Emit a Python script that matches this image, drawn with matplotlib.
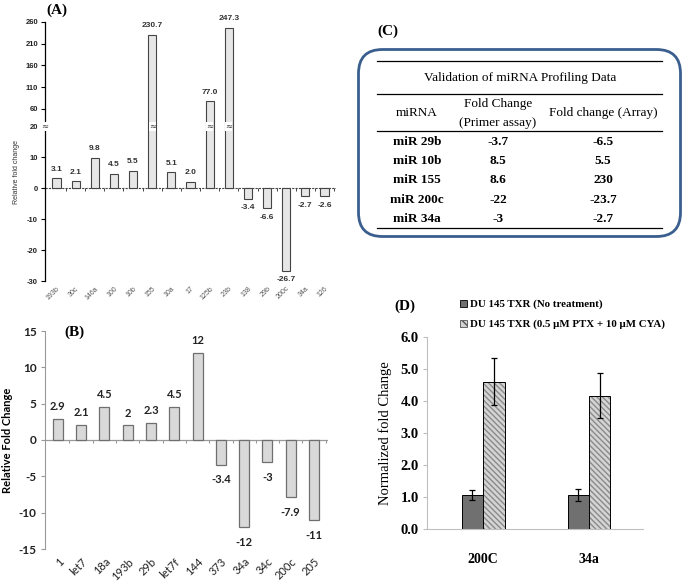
import numpy as np
import matplotlib
matplotlib.use('Agg')
from matplotlib import pyplot as pl
from matplotlib.patches import FancyBboxPatch, Patch

# panel A: array profiling
a_names = ['193b', '30c', '146a', '100', '10b', '155', '10a', '17',
           '125b', '23b', '138', '29b', '200c', '34a', '126']
a_vals = [3.1, 2.1, 9.8, 4.5, 5.5, 230.7, 5.1, 2.0,
          77.0, 247.3, -3.4, -6.6, -26.7, -2.7, -2.6]
a_ticks = [-30, -20, -10, 0, 10, 20, 60, 110, 160, 210, 260]
a_break = 20

# panel B
b_names = ['1', 'let7', '18a', '193b', '29b', 'let7f', '144',
           '373', '34a', '34c', '200c', '205']
b_vals = [2.9, 2.1, 4.5, 2, 2.3, 4.5, 12, -3.4, -12, -3, -7.9, -11]

# panel C: table
c_mirna = ['miR 29b', 'miR 10b', 'miR 155', 'miR 200c', 'miR 34a']
c_primer = [-3.7, 8.5, 8.6, -22, -3]
c_array = [-6.5, 5.5, 230, -23.7, -2.7]

# panel D
d_groups = ['200C', '34a']
d_ctrl = [1.07, 1.07]
d_ctrl_err = [0.15, 0.19]
d_trt = [4.60, 4.17]
d_trt_err = [0.73, 0.71]
d_labels = ['DU 145 TXR (No treatment)',
            'DU 145 TXR (0.5 \u00b5M PTX + 10 \u00b5M CYA)']

W, H = 686, 585
fig = pl.figure(figsize=(W/100, H/100), dpi=100)


def box(l, t, r, b):
    return [l/W, 1-b/H, (r-l)/W, (b-t)/H]


# ---------------- (A) ----------------
k = (104/240)/(31/10)


def fwd(y):
    y = np.asarray(y, dtype=float)
    return np.where(y <= a_break, y, a_break+(y-a_break)*k)


def inv(y):
    y = np.asarray(y, dtype=float)
    return np.where(y <= a_break, y, a_break+(y-a_break)/k)


axA = fig.add_axes(box(45, 22, 336, 281))
axA.set_yscale('function', functions=(fwd, inv))
xa = np.arange(len(a_vals))
axA.bar(xa, a_vals, width=0.42, color='#e6e6e6', edgecolor='#444444',
        linewidth=0.8, zorder=2)
axA.set_xlim(-0.6, len(a_vals)-0.4)
axA.set_ylim(-30, 260)
axA.set_yticks(a_ticks)
axA.set_yticklabels([str(t) for t in a_ticks], fontsize=5.5,
                    family='Liberation Sans', weight='bold', color='#222222')
axA.set_xticks(xa)
axA.set_xticklabels(a_names, rotation=45, ha='right', rotation_mode='anchor',
                    fontsize=5, family='Liberation Sans', color='#555555')
axA.tick_params(axis='x', length=0, pad=3)
axA.tick_params(axis='y', length=3, width=0.8, pad=2)
for s in ['top', 'right', 'bottom']:
    axA.spines[s].set_visible(False)
axA.spines['left'].set_linewidth(0.9)
axA.axhline(0, color='#444444', linewidth=0.8, linestyle=(0, (2, 1)), zorder=1)
axA.vlines(xa+0.5, -0.9, 0, color='#444444', linewidth=0.7)
for i, v in enumerate(a_vals):
    if v > a_break:
        axA.text(i, a_break, '\u2248', ha='center', va='center', fontsize=6,
                 color='#333333', zorder=3,
                 bbox=dict(facecolor='white', edgecolor='none', pad=0))
    axA.annotate('%.1f' % v, (i, v), xytext=(0, 4 if v > 0 else -4),
                 textcoords='offset points', ha='center',
                 va='bottom' if v > 0 else 'top', fontsize=6,
                 family='Liberation Sans', weight='bold', color='#333333')
axA.text(-0.6, a_break, '\u2248', ha='center', va='center', fontsize=6,
         color='#333333',
         bbox=dict(facecolor='white', edgecolor='none', pad=0))
fig.text(16/W, 1-172/H, 'Relative fold change', rotation=90, ha='center',
         va='center', fontsize=5, family='Liberation Sans', color='#333333')
fig.text(57/W, 1-10/H, '(A)', ha='center', va='center', fontsize=11,
         family='Liberation Serif', weight='bold')

# ---------------- (B) ----------------
axB = fig.add_axes(box(45, 331, 328, 549))
xb = np.arange(len(b_vals))
axB.bar(xb, b_vals, width=0.43, color='#d9d9d9', edgecolor='#6f6f6f',
        linewidth=0.9, zorder=2)
axB.set_xlim(-0.55, len(b_vals)-0.4)
axB.set_ylim(-15, 15)
axB.set_yticks([-15, -10, -5, 0, 5, 10, 15])
axB.set_yticklabels(['-15', '-10', '-5', '0', '5', '10', '15'], fontsize=8.5,
                    family='Lato', weight='bold', color='#222222')
axB.set_xticks(xb)
axB.set_xticklabels(b_names, rotation=45, ha='right', rotation_mode='anchor',
                    fontsize=8, family='Lato', color='#222222')
axB.tick_params(axis='x', length=0, pad=5)
axB.tick_params(axis='y', length=3, width=0.8, color='#999999', pad=3)
for s in ['top', 'right', 'bottom']:
    axB.spines[s].set_visible(False)
axB.spines['left'].set_color('#999999')
axB.axhline(0, color='#999999', linewidth=0.9, zorder=1)
axB.vlines(xb+0.5, -0.4, 0, color='#999999', linewidth=0.8)
for i, v in enumerate(b_vals):
    axB.annotate('%g' % v, (i, v), xytext=(0, 5 if v > 0 else -7),
                 textcoords='offset points', ha='center',
                 va='bottom' if v > 0 else 'top', fontsize=8, family='Lato',
                 weight='bold', color='#222222')
axB.set_ylabel('Relative Fold Change', fontsize=8, family='Lato',
               weight='bold', labelpad=4)
fig.text(74/W, 1-332/H, '(B)', ha='center', va='center', fontsize=11,
         family='Liberation Serif', weight='bold')

# ---------------- (C) ----------------
axC = fig.add_axes(box(357, 48, 682, 238))
axC.set_xlim(0, 325)
axC.set_ylim(190, 0)
axC.axis('off')
axC.add_patch(FancyBboxPatch((1.5, 1.5), 322, 187,
                             boxstyle='round,pad=0,rounding_size=24',
                             facecolor='white', edgecolor='#3a5f8f',
                             linewidth=2))
for y in [13, 46, 83, 180]:
    axC.plot([20, 305], [y, y], color='black', linewidth=0.9)
serif = 'Liberation Serif'
axC.text(163, 30, 'Validation of miRNA Profiling Data', ha='center',
         va='center', fontsize=9.5, family=serif)
axC.text(60, 65, 'miRNA', ha='center', va='center', fontsize=9.5, family=serif)
axC.text(141, 56, 'Fold Change', ha='center', va='center', fontsize=9.5,
         family=serif)
axC.text(141, 75, '(Primer assay)', ha='center', va='center', fontsize=9.5,
         family=serif)
axC.text(246, 65, 'Fold change (Array)', ha='center', va='center',
         fontsize=9.5, family=serif)
for i, name in enumerate(c_mirna):
    y = 94+19.2*i
    axC.text(60, y, name, ha='center', va='center', fontsize=9.5,
             family=serif, weight='bold')
    axC.text(141, y, '%g' % c_primer[i], ha='center', va='center',
             fontsize=9.5, family=serif, weight='bold')
    axC.text(246, y, '%g' % c_array[i], ha='center', va='center',
             fontsize=9.5, family=serif, weight='bold')
fig.text(388/W, 1-31/H, '(C)', ha='center', va='center', fontsize=11,
         family=serif, weight='bold')

# ---------------- (D) ----------------
axD = fig.add_axes(box(427, 337, 643, 529))
xd = np.arange(len(d_groups))
bw = 0.203
axD.bar(xd-bw/2, d_ctrl, width=bw, color='#707070', edgecolor='black',
        linewidth=0.7, yerr=d_ctrl_err, capsize=2.5,
        error_kw=dict(elinewidth=0.9, capthick=0.9), zorder=2)
axD.bar(xd+bw/2, d_trt, width=bw, color='#d4d4d4', edgecolor='#8a8a8a',
        hatch='\\\\\\\\\\\\', linewidth=0, zorder=2)
axD.bar(xd+bw/2, d_trt, width=bw, fill=False, edgecolor='black',
        linewidth=0.7, yerr=d_trt_err, capsize=2.5,
        error_kw=dict(elinewidth=0.9, capthick=0.9), zorder=3)
axD.set_xlim(-0.53, 1.51)
axD.set_ylim(0, 6)
axD.set_yticks(np.arange(0, 7))
axD.set_yticklabels(['%.1f' % t for t in range(7)], fontsize=10.5,
                    family=serif, weight='bold')
axD.set_xticks(xd)
axD.set_xticklabels(d_groups, fontsize=10, family=serif, weight='bold')
axD.tick_params(axis='x', length=0, pad=17)
axD.tick_params(axis='y', length=3, color='#bfbfbf', pad=3)
for s in ['top', 'right']:
    axD.spines[s].set_visible(False)
for s in ['left', 'bottom']:
    axD.spines[s].set_color('#bfbfbf')
axD.set_ylabel('Normalized fold Change', fontsize=10.5, family=serif,
               labelpad=6)
handles = [Patch(facecolor='#707070', edgecolor='black', linewidth=0.6),
           Patch(facecolor='#d4d4d4', edgecolor='#555555', hatch='\\\\\\\\',
                 linewidth=0.6)]
leg = axD.legend(handles, d_labels, loc='lower left',
                 bbox_to_anchor=(33/216, 1.04), frameon=False,
                 prop=dict(family=serif, weight='bold', size=7.8),
                 handlelength=0.6, handleheight=0.6, handletextpad=0.3,
                 labelspacing=0.95, borderaxespad=0, borderpad=0)
fig.text(405/W, 1-306/H, '(D)', ha='center', va='center', fontsize=11,
         family=serif, weight='bold')

fig.savefig('out.png', dpi=100)
